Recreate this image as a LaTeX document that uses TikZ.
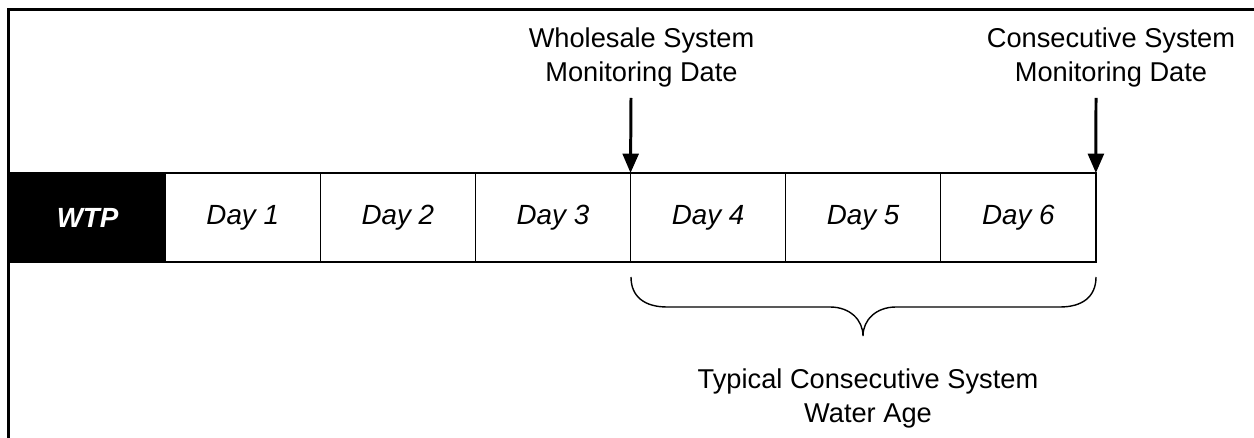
\documentclass[tikz,border=0pt]{standalone}
\usepackage{fontspec}
\setmainfont{Liberation Sans}
\usetikzlibrary{positioning, arrows.meta}

\begin{document}
\begin{tikzpicture}[x=0.02cm, y=-0.02cm,
  daybox/.style={draw, line width=0.8pt, outer sep=0pt, minimum width=3.103cm, minimum height=1.78cm, font=\fontsize{15.8}{19.8}\selectfont\itshape},
  label/.style={align=center, font=\fontsize{15.5}{19.8}\selectfont},
  datearrow/.style={line width=1.7pt, -{Triangle[length=11pt, width=9pt]}}]
\useasboundingbox (0,0) rectangle (1254,438);

% frame
\draw[line width=1.7pt] (8.5,438) -- (8.5,10) -- (1254,10);

% days
\node[daybox, fill=black, text=white, font=\fontsize{15.8}{19.8}\selectfont\bfseries\itshape] (wtp) at (87.6,217.5) {WTP};
\node[daybox, right=0cm of wtp] (d1) {Day 1};
\node[daybox, right=0cm of d1] (d2) {Day 2};
\node[daybox, right=0cm of d2] (d3) {Day 3};
\node[daybox, right=0cm of d3] (d4) {Day 4};
\node[daybox, right=0cm of d4] (d5) {Day 5};
\node[daybox, right=0cm of d5] (d6) {Day 6};

% monitoring dates
\node[label, anchor=base] (ws) at (641.5,82) {Wholesale System\\Monitoring Date};
\node[label, anchor=base] (cs) at (1111,82) {Consecutive System\\Monitoring Date};
\coordinate (wstop) at (631,98);
\coordinate (cstop) at (1096,98);
\draw[datearrow] (wstop) -- (d4.north west);
\draw[datearrow] (cstop) -- (d6.north east);

% brace
\draw[line width=0.8pt] (631,277) .. controls (631,297) and (645,307) .. (667,307) -- (830,307)
  .. controls (850,307) and (863,320) .. (863,336)
  .. controls (863,320) and (876,307) .. (896,307) -- (1060,307)
  .. controls (1082,307) and (1096,297) .. (1096,277);
\node[label, anchor=base] (age) at (868,423) {Typical Consecutive System\\Water Age};
\end{tikzpicture}
\end{document}
